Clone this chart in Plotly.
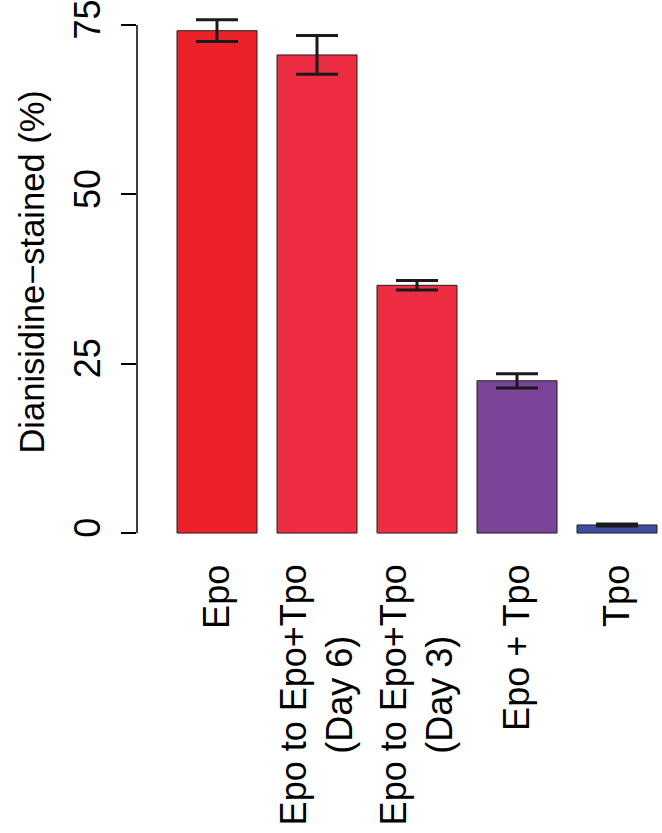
import plotly.graph_objects as go

# values
conditions = ["Epo", "Epo to Epo+Tpo (Day 6)", "Epo to Epo+Tpo (Day 3)", "Epo + Tpo", "Tpo"]
labels = ["Epo", "Epo to Epo+Tpo<br>(Day 6)", "Epo to Epo+Tpo<br>(Day 3)", "Epo + Tpo", "Tpo"]
stained_pct = [74.15, 70.57, 36.57, 22.48, 1.2]
stained_err = [1.6, 2.86, 0.71, 1.05, 0.15]
bar_colors = ["#EC2129", "#ED2D42", "#ED2D42", "#7B4498", "#3C4EA2"]
y_ticks = [0, 25, 50, 75]

FONT = "Liberation Sans, Arial, Helvetica, sans-serif"

fig = go.Figure()
fig.add_trace(go.Bar(
    x=conditions,
    y=stained_pct,
    marker=dict(color=bar_colors, line=dict(color="#231f20", width=1)),
    error_y=dict(type="data", array=stained_err, visible=True,
                 color="#1a1a1a", thickness=3, width=21),
    showlegend=False,
))

# rotated category labels, hung from just under the plot like R's las=2
for cond, lab in zip(conditions, labels):
    fig.add_annotation(
        x=cond, xref="x", y=-0.0336, yref="paper",
        text=lab, textangle=-90, showarrow=False,
        xanchor="center", yanchor="top", align="center",
        font=dict(family=FONT, size=36, color="black"),
    )

# y title
fig.add_annotation(
    x=-0.200, xref="paper", y=38.45, yref="y",
    text="Dianisidine\u2212stained (%)", textangle=-90, showarrow=False,
    xanchor="center", yanchor="middle",
    font=dict(family=FONT, size=34.5, color="black"),
)

# R style axis line that only spans the tick range
fig.add_shape(type="line", xref="paper", x0=0, x1=0, yref="y", y0=0, y1=75,
              line=dict(color="black", width=1.5))

fig.update_layout(
    width=662, height=833,
    margin=dict(l=137, r=0, t=10, b=288),
    plot_bgcolor="white", paper_bgcolor="white",
    bargap=0.2,
    font=dict(family=FONT, color="black"),
    xaxis=dict(range=[-0.8, 4.45], showticklabels=False, ticks="",
               showgrid=False, zeroline=False, showline=False),
    yaxis=dict(range=[-1.761, 76.761], tickvals=y_ticks, ticks="outside",
               ticklen=15, tickwidth=1.5, tickcolor="black", tickangle=-90,
               ticklabelstandoff=7, ticklabeloverflow="allow",
               tickfont=dict(family=FONT, size=36, color="black"),
               showgrid=False, zeroline=False, showline=False),
)

fig.write_html("out.html", config={"displayModeBar": False},
               post_script="document.body.style.margin='0';document.body.style.overflow='hidden';")
